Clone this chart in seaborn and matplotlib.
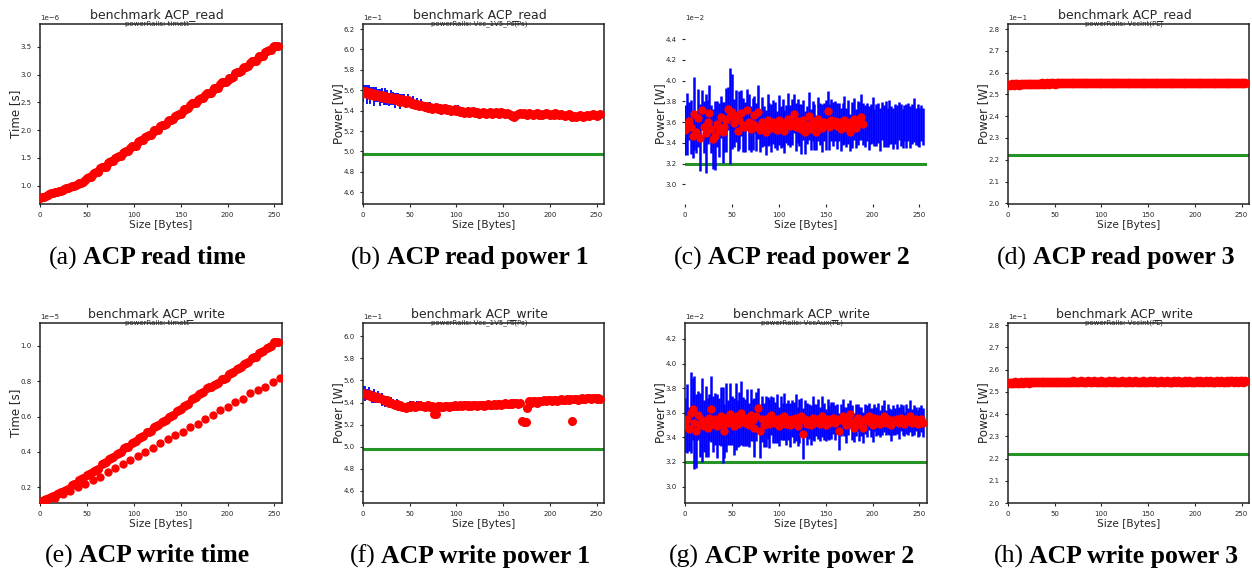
import numpy as np
import matplotlib
matplotlib.use("Agg")
import matplotlib.pyplot as plt
import seaborn as sns


def nums(s, scale=1.0):
    return np.array(s.split(), dtype=float) * scale


# ---- data ----
sizes = np.arange(0, 256, 2)            # Bytes, 128 sizes
sizes_aligned = np.arange(0, 257, 8)    # Bytes, multiples of 8 (write time, fast path)
sizes_unaligned = np.array([8 * k + d for k in range(32) for d in (2, 4, 6)])

# (a) read time [1e-6 s]
read_time = nums("""
0.78 0.79 0.80 0.81 0.84 0.85 0.86 0.86 0.88 0.89 0.90 0.91 0.93 0.94 0.95 0.96
0.98 0.99 1.00 1.01 1.03 1.04 1.05 1.07
1.10 1.14 1.15 1.16  1.21 1.23 1.24 1.24  1.31 1.33 1.34 1.34  1.40 1.43 1.44 1.44
1.49 1.52 1.53 1.54  1.58 1.61 1.62 1.62  1.68 1.71 1.72 1.72  1.78 1.81 1.82 1.82
1.88 1.90 1.91 1.92  1.97 2.00 2.00 2.01  2.07 2.10 2.10 2.11  2.16 2.19 2.19 2.20
2.26 2.28 2.29 2.29  2.35 2.38 2.38 2.39  2.45 2.48 2.48 2.49  2.54 2.56 2.57 2.57
2.64 2.66 2.67 2.67  2.72 2.75 2.75 2.76  2.83 2.86 2.86 2.87  2.91 2.94 2.94 2.95
3.02 3.05 3.05 3.06  3.11 3.14 3.14 3.15  3.21 3.24 3.24 3.25  3.30 3.33 3.33 3.34
3.40 3.43 3.44 3.44  3.49 3.51 3.52 3.52
""", 1e-6)

# (e) write time [1e-5 s]
write_time_unaligned = nums("""
0.12 0.125 0.13  0.14 0.145 0.15  0.16 0.165 0.17  0.18 0.185 0.19
0.21 0.215 0.22  0.24 0.245 0.25  0.27 0.275 0.28  0.29 0.295 0.30
0.33 0.335 0.34  0.36 0.365 0.37  0.39 0.395 0.40  0.42 0.425 0.43
0.45 0.455 0.46  0.48 0.485 0.49  0.51 0.515 0.52  0.54 0.545 0.55
0.57 0.575 0.58  0.60 0.605 0.61  0.63 0.635 0.64  0.66 0.665 0.67
0.70 0.705 0.71  0.73 0.735 0.74  0.76 0.765 0.77  0.78 0.785 0.79
0.81 0.815 0.82  0.84 0.845 0.85  0.87 0.875 0.88  0.90 0.905 0.91
0.93 0.935 0.94  0.96 0.965 0.97  0.99 0.995 1.00  1.02 1.02 1.025
""", 1e-5)
write_time_aligned = nums("""
0.11 0.13 0.14 0.16 0.18 0.20 0.22 0.24 0.26 0.285 0.31 0.33 0.355 0.375 0.40 0.42
0.45 0.47 0.495 0.515 0.54 0.56 0.585 0.61 0.635 0.655 0.68 0.70 0.735 0.75 0.77 0.795 0.82
""", 1e-5)

# (b) read power, Vcc_1V5_Ps [1e-1 W], error in hundredths
read_p1 = nums("""
5.57 5.59 5.56 5.58 5.55 5.57 5.54 5.56 5.55 5.53 5.55 5.52 5.54 5.53 5.51 5.53
5.52 5.50 5.52 5.51 5.49 5.51 5.50 5.48 5.50 5.49 5.47 5.48 5.46 5.47 5.45 5.46
5.45 5.44 5.45 5.43 5.44 5.42 5.43 5.44 5.42 5.43 5.41 5.42 5.43 5.41 5.42 5.40
5.41 5.42 5.40 5.41 5.39 5.40 5.38 5.39 5.40 5.38 5.39 5.40 5.38 5.39 5.37 5.38
5.39 5.38 5.37 5.38 5.39 5.37 5.38 5.39 5.38 5.37 5.39 5.38 5.37 5.38 5.37 5.36
5.35 5.34 5.36 5.37 5.38 5.37 5.38 5.37 5.36 5.38 5.37 5.36 5.37 5.38 5.36 5.37
5.36 5.37 5.38 5.37 5.36 5.37 5.36 5.38 5.37 5.36 5.37 5.36 5.35 5.36 5.37 5.36
5.34 5.35 5.34 5.35 5.36 5.35 5.34 5.35 5.36 5.35 5.36 5.37 5.36 5.35 5.36 5.37
""", 1e-1)
read_p1_err = nums("""
8 6 9 7 8 6 9 7 6 8 7 6 8 7 6 7
6 7 5 6 7 5 6 5 6 4 5 6 4 5 4 5
4 5 3 4 5 3 4 3 4 3 5 3 4 3 4 4
3 4 3 5 3 4 3 3 4 3 2 3 4 3 2 3
3 2 3 3 2 3 4 2 3 2 3 3 2 3 2 3
3 4 3 2 3 2 3 2 3 2 2 3 2 3 2 2
2 3 2 2 3 2 2 3 2 2 3 2 2 3 2 2
3 2 3 2 2 3 2 2 3 2 2 3 2 2 2 3
""", 1e-3)

# (c) read power 2 [1e-2 W]
read_p2 = nums("""
3.52 3.58 3.61 3.55 3.47 3.68 3.50 3.64 3.45 3.72 3.55 3.49 3.60 3.69 3.53 3.44
3.47 3.58 3.52 3.65 3.50 3.55 3.62 3.73 3.66 3.70 3.59 3.66 3.51 3.62 3.69 3.57
3.55 3.72 3.60 3.53 3.58 3.67 3.55 3.70 3.52 3.60 3.56 3.50 3.62 3.58 3.54 3.60
3.57 3.52 3.62 3.55 3.59 3.51 3.58 3.63 3.56 3.60 3.68 3.55 3.61 3.57 3.53 3.62
3.50 3.57 3.66 3.53 3.61 3.55 3.50 3.63 3.58 3.54 3.60 3.57 3.71 3.55 3.62 3.58
3.61 3.56 3.60 3.53 3.58 3.62 3.55 3.60 3.50 3.57 3.63 3.54 3.59 3.61 3.65 3.58
3.56 3.60 3.54 3.58 3.62 3.55 3.57 3.59 3.53 3.61 3.56 3.58 3.55 3.60 3.57 3.54
3.58 3.55 3.61 3.57 3.54 3.59 3.56 3.60 3.55 3.58 3.62 3.56 3.57 3.55 3.59 3.56
""", 1e-2)
read_p2_err = nums("""
24 30 18 26 22 35 20 28 32 19 25 38 21 27 23 29
33 22 26 20 29 24 31 21 46 36 23 25 19 28 22 26
24 20 27 22 25 18 23 26 21 24 19 22 25 20 23 21
22 19 24 20 23 21 18 25 20 22 19 23 21 20 24 19
21 18 23 20 19 22 17 21 20 23 18 24 19 22 20 21
19 22 18 21 20 23 19 21 18 22 20 19 21 18 22 20
20 18 21 19 22 18 20 19 21 18 20 22 19 21 18 20
19 21 18 20 19 17 21 18 20 19 21 18 20 19 17 18
""", 1e-4)
read_p2_points = 96   # mean markers only drawn up to ~190 Bytes

# (d) read power 3, VccInt(PL) [1e-1 W]
read_p3 = nums("""
2.545 2.544 2.546 2.545 2.547 2.546 2.545 2.547 2.548 2.546 2.547 2.548 2.547 2.549 2.548 2.547
2.549 2.548 2.550 2.549 2.548 2.550 2.549 2.551 2.550 2.549 2.551 2.550 2.552 2.551 2.550 2.552
2.551 2.552 2.553 2.551 2.552 2.553 2.552 2.551 2.553 2.552 2.551 2.553 2.552 2.553 2.551 2.552
2.553 2.552 2.551 2.553 2.552 2.554 2.553 2.552 2.553 2.551 2.552 2.553 2.552 2.551 2.553 2.552
2.552 2.553 2.551 2.552 2.553 2.552 2.551 2.553 2.552 2.553 2.551 2.552 2.553 2.552 2.551 2.552
2.553 2.552 2.551 2.552 2.553 2.552 2.551 2.553 2.552 2.551 2.552 2.553 2.552 2.551 2.552 2.553
2.552 2.551 2.553 2.552 2.551 2.552 2.553 2.552 2.551 2.552 2.553 2.552 2.551 2.553 2.552 2.551
2.552 2.553 2.551 2.552 2.553 2.552 2.551 2.552 2.553 2.552 2.551 2.552 2.553 2.552 2.551 2.552
""", 1e-1)

# (f) write power, Vcc_1V5_Ps [1e-1 W]
write_p1 = nums("""
5.49 5.48 5.47 5.48 5.46 5.45 5.46 5.44 5.45 5.44 5.43 5.42 5.41 5.42 5.40 5.40
5.39 5.38 5.39 5.37 5.38 5.36 5.36 5.35 5.37 5.36 5.38 5.37 5.36 5.37 5.38 5.37
5.37 5.36 5.37 5.38 5.36 5.37 5.30 5.30 5.37 5.37 5.36 5.36 5.37 5.37 5.36 5.37
5.37 5.38 5.37 5.37 5.38 5.37 5.38 5.38 5.37 5.38 5.37 5.38 5.38 5.37 5.38 5.38
5.38 5.37 5.38 5.39 5.38 5.38 5.39 5.38 5.39 5.39 5.38 5.39 5.40 5.39 5.39 5.40
5.39 5.40 5.40 5.39 5.40 5.23 5.22 5.22 5.35 5.41 5.40 5.41 5.41 5.40 5.41 5.41
5.41 5.42 5.41 5.42 5.42 5.41 5.42 5.42 5.41 5.42 5.43 5.42 5.42 5.43 5.42 5.43
5.23 5.43 5.43 5.42 5.43 5.44 5.43 5.43 5.44 5.44 5.43 5.44 5.44 5.43 5.44 5.43
""", 1e-1)
write_p1_err = nums("""
6 7 5 6 4 5 6 4 5 3 6 4 5 4 3 5
4 3 4 5 3 4 3 4 3 5 3 4 3 4 3 4
3 2 3 3 2 3 2 2 1 1 1 1 1 1 1 1
1 1 1 1 1 1 1 1 1 1 1 1 1 1 1 1
1 1 1 1 1 1 1 1 1 1 1 1 1 1 1 1
1 1 1 1 1 3 4 3 1 1 1 1 1 1 1 1
1 1 1 1 1 1 1 1 1 1 1 1 1 1 1 1
4 1 1 1 1 1 1 1 1 1 1 1 1 1 1 1
""", 1e-3)

# (g) write power, VccAux(PL) [1e-2 W]
write_p2 = nums("""
3.50 3.55 3.47 3.60 3.63 3.52 3.45 3.58 3.50 3.54 3.49 3.53 3.48 3.56 3.63 3.51
3.55 3.49 3.53 3.57 3.50 3.45 3.56 3.52 3.59 3.54 3.49 3.57 3.51 3.55 3.60 3.53
3.52 3.56 3.50 3.58 3.54 3.48 3.57 3.64 3.45 3.55 3.50 3.53 3.56 3.51 3.58 3.54
3.52 3.55 3.49 3.56 3.53 3.57 3.51 3.54 3.50 3.55 3.52 3.56 3.49 3.53 3.57 3.43
3.55 3.51 3.53 3.50 3.56 3.52 3.54 3.55 3.51 3.57 3.53 3.50 3.55 3.52 3.54 3.56
3.52 3.55 3.45 3.54 3.57 3.53 3.50 3.55 3.59 3.52 3.48 3.54 3.56 3.51 3.53 3.48
3.55 3.53 3.57 3.52 3.50 3.56 3.53 3.55 3.51 3.54 3.57 3.52 3.55 3.53 3.50 3.54
3.53 3.55 3.52 3.56 3.54 3.51 3.55 3.53 3.57 3.52 3.54 3.55 3.51 3.53 3.55 3.52
""", 1e-2)
write_p2_err = nums("""
22 28 18 33 25 38 30 20 26 34 21 29 24 19 27 23
21 26 19 24 31 22 28 18 25 20 23 27 19 22 26 20
19 23 18 21 17 24 20 16 22 19 18 21 17 20 16 19
17 20 16 18 15 19 17 16 18 15 17 19 16 18 15 21
15 17 14 16 18 15 13 16 14 17 15 13 16 14 15 13
14 12 15 13 14 12 15 13 11 14 12 13 11 14 12 13
12 13 11 12 14 11 12 13 11 12 13 10 12 11 13 12
11 12 13 11 12 10 12 11 13 11 12 10 11 12 11 12
""", 1e-4)

# (h) write power 3, VccInt(PL) [1e-1 W]
write_p3 = nums("""
2.541 2.542 2.540 2.542 2.543 2.541 2.542 2.543 2.542 2.544 2.543 2.542 2.544 2.543 2.544 2.545
2.543 2.544 2.545 2.544 2.543 2.545 2.544 2.546 2.545 2.544 2.545 2.546 2.545 2.544 2.546 2.545
2.546 2.545 2.546 2.547 2.545 2.546 2.545 2.547 2.546 2.545 2.546 2.547 2.546 2.545 2.547 2.546
2.545 2.546 2.547 2.546 2.545 2.546 2.547 2.545 2.546 2.547 2.546 2.545 2.546 2.547 2.546 2.545
2.546 2.547 2.546 2.545 2.547 2.546 2.545 2.546 2.547 2.546 2.545 2.546 2.547 2.546 2.547 2.546
2.545 2.546 2.547 2.546 2.545 2.547 2.546 2.545 2.546 2.547 2.546 2.547 2.546 2.545 2.546 2.547
2.546 2.547 2.546 2.545 2.546 2.547 2.546 2.547 2.546 2.545 2.547 2.546 2.547 2.546 2.545 2.546
2.547 2.546 2.547 2.546 2.545 2.547 2.546 2.547 2.548 2.546 2.547 2.546 2.547 2.548 2.546 2.547
""", 1e-1)

# idle baselines (green lines) [W]
idle_p1 = 0.498
idle_p2 = 0.0320
idle_p3 = 0.222

titles = ["benchmark ACP_read", "benchmark ACP_write"]
rails = ["timett", "Vcc_1V5_Ps(Ps)", "VccAux(PL)", "VccInt(PL)"]
captions = [("(a)", "ACP read time"), ("(b)", "ACP read power 1"),
            ("(c)", "ACP read power 2"), ("(d)", "ACP read power 3"),
            ("(e)", "ACP write time"), ("(f)", "ACP write power 1"),
            ("(g)", "ACP write power 2"), ("(h)", "ACP write power 3")]

# ---- figure ----
sns.set_style("ticks")
plt.rcParams['font.family'] = ['DejaVu Sans']
plt.rcParams['axes.edgecolor'] = '#222222'
plt.rcParams['axes.linewidth'] = 1.1
plt.rcParams['xtick.major.size'] = 2.5
plt.rcParams['ytick.major.size'] = 2.5
plt.rcParams['xtick.labelsize'] = 5
plt.rcParams['ytick.labelsize'] = 5

W, H = 1252, 573
fig = plt.figure(figsize=(W / 100, H / 100), dpi=100)

lefts = [40, 363, 685, 1008]
widths = [242, 241, 242, 241]
tops = [24, 323]
ax_h = 180


def make_ax(row, col):
    return fig.add_axes([lefts[col] / W, 1 - (tops[row] + ax_h) / H,
                         widths[col] / W, ax_h / H])


def dress(ax, ylabel, ylim, title=None, rail=None):
    ax.set_xlim(0, 258)
    ax.set_ylim(*ylim)
    ax.set_xticks([0, 50, 100, 150, 200, 250])
    ax.ticklabel_format(axis='y', style='sci', scilimits=(0, 0))
    ax.yaxis.get_offset_text().set_fontsize(5)
    ax.set_xlabel("Size [Bytes]", fontsize=7.6, labelpad=1)
    ax.set_ylabel(ylabel, fontsize=8.6, labelpad=-1)
    if title:
        ax.text(0.483, 1.05, title, transform=ax.transAxes, ha='center',
                va='center', fontsize=9)
        ax.text(0.483, 1.0, "powerRails: " + rail, transform=ax.transAxes,
                ha='center', va='center', fontsize=5)


def red(ax, x, y, s=42):
    sns.scatterplot(x=x, y=y, color='red', s=s, linewidth=0, ax=ax, zorder=3)


def blue(ax, x, y, err, lw=1.3):
    ax.errorbar(x, y, yerr=err, fmt='none', ecolor='blue', elinewidth=lw,
                zorder=2)


# (a)
ax = make_ax(0, 0)
red(ax, sizes, read_time)
dress(ax, "Time [s]", (0.67e-6, 3.91e-6), titles[0], rails[0])

# (b)
ax = make_ax(0, 1)
blue(ax, sizes, read_p1, read_p1_err)
red(ax, sizes, read_p1)
ax.axhline(idle_p1, color='green', lw=2.2, alpha=0.85, zorder=1)
dress(ax, "Power [W]", (0.4485, 0.625), titles[0], rails[1])

# (c)
ax = make_ax(0, 2)
blue(ax, sizes, read_p2, read_p2_err, lw=1.8)
red(ax, sizes[:read_p2_points], read_p2[:read_p2_points], s=36)
ax.axhline(idle_p2, color='green', lw=2.2, alpha=0.85, zorder=1)
dress(ax, "Power [W]", (0.0281, 0.04545))
for sp in ax.spines.values():
    sp.set_visible(False)

# (d)
ax = make_ax(0, 3)
red(ax, sizes, read_p3, s=48)
ax.axhline(idle_p3, color='green', lw=2.2, alpha=0.85, zorder=1)
dress(ax, "Power [W]", (0.1997, 0.2823), titles[0], rails[3])

# (e)
ax = make_ax(1, 0)
red(ax, sizes_unaligned, write_time_unaligned)
red(ax, sizes_aligned, write_time_aligned, s=36)
dress(ax, "Time [s]", (0.11e-5, 1.13e-5), titles[1], rails[0])

# (f)
ax = make_ax(1, 1)
blue(ax, sizes, write_p1, write_p1_err)
red(ax, sizes, write_p1)
ax.axhline(idle_p1, color='green', lw=2.2, alpha=0.85, zorder=1)
dress(ax, "Power [W]", (0.449, 0.612), titles[1], rails[1])

# (g)
ax = make_ax(1, 2)
blue(ax, sizes, write_p2, write_p2_err, lw=1.8)
red(ax, sizes, write_p2, s=36)
ax.axhline(idle_p2, color='green', lw=2.2, alpha=0.85, zorder=1)
dress(ax, "Power [W]", (0.02866, 0.0433), titles[1], rails[2])

# (h)
ax = make_ax(1, 3)
red(ax, sizes, write_p3, s=48)
ax.axhline(idle_p3, color='green', lw=2.2, alpha=0.85, zorder=1)
dress(ax, "Power [W]", (0.2, 0.281), titles[1], rails[3])

# ---- captions: "(x)" regular + bold text, centred under each panel ----
cap_x = [147, 470, 792, 1116]
cap_y = [258, 556]
renderer = fig.canvas.get_renderer()
for i, (tag, txt) in enumerate(captions):
    row, col = divmod(i, 4)
    t1 = fig.text(0, 0, tag, fontsize=18.5, family='Liberation Serif',
                  va='center', color='black')
    t2 = fig.text(0, 0, txt, fontsize=18.5, family='Liberation Serif',
                  weight='bold', va='center', color='black')
    w1 = t1.get_window_extent(renderer).width
    w2 = t2.get_window_extent(renderer).width
    gap = 6
    x0 = cap_x[col] - (w1 + gap + w2) / 2
    y = 1 - cap_y[row] / H
    t1.set_position((x0 / W, y))
    t2.set_position(((x0 + w1 + gap) / W, y))

fig.savefig("out.png", dpi=100)
